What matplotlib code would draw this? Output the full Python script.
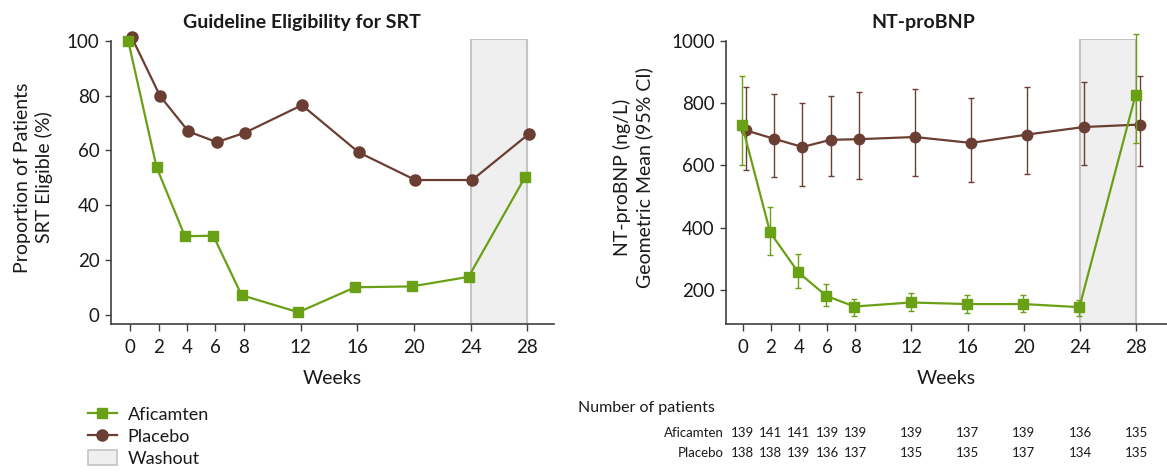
import numpy as np
import matplotlib
matplotlib.use("Agg")
import matplotlib.pyplot as plt
from matplotlib.lines import Line2D
from matplotlib.patches import Patch

plt.rcParams['font.family'] = ['Lato', 'DejaVu Sans']
plt.rcParams['text.color'] = '#1a1a1a'
plt.rcParams['axes.labelcolor'] = '#1a1a1a'

# data
weeks = [0, 2, 4, 6, 8, 12, 16, 20, 24, 28]
srt_afi = [100, 53.9, 28.7, 28.9, 7.2, 1.0, 10.1, 10.4, 13.9, 50.4]
srt_pbo = [101.2, 79.8, 66.9, 63.0, 66.5, 76.5, 59.3, 49.2, 49.2, 66.0]

bnp_afi = [730, 385, 257, 181, 147, 160, 155, 155, 145, 827]
bnp_afi_lo = [602, 312, 208, 149, 117, 134, 125, 131, 117, 672]
bnp_afi_hi = [886, 466, 315, 218, 172, 190, 184, 184, 168, 1023]
bnp_pbo = [712, 685, 659, 682, 684, 691, 672, 699, 723, 731]
bnp_pbo_lo = [584, 563, 535, 567, 556, 567, 546, 573, 602, 598]
bnp_pbo_hi = [853, 829, 801, 824, 836, 845, 817, 853, 867, 886]

n_afi = [139, 141, 141, 139, 139, 139, 137, 139, 136, 135]
n_pbo = [138, 138, 139, 136, 137, 135, 135, 137, 134, 135]

washout = (24, 28)

GREEN = '#6aa016'
BROWN = '#6b3e34'
SPINE = '#404040'

wk = np.array(weeks, dtype=float)

fig = plt.figure(figsize=(11.67, 4.76), dpi=100)
ax1 = fig.add_axes([0.0949, 0.3193, 0.3799, 0.5981])
ax2 = fig.add_axes([0.6221, 0.3193, 0.3779, 0.5981])


def style_axis(ax, ylim, ytop, yticks):
    ax.set_ylim(*ylim)
    ax.set_yticks(yticks)
    ax.set_xticks(weeks)
    for s in ['top', 'right']:
        ax.spines[s].set_visible(False)
    for s in ['left', 'bottom']:
        ax.spines[s].set_color(SPINE)
        ax.spines[s].set_linewidth(1.2)
    ax.spines['left'].set_bounds(ylim[0], ytop)
    ax.tick_params(axis='both', colors=SPINE, labelcolor='#1a1a1a',
                   labelsize=13.5, width=1.0)
    ax.tick_params(axis='x', length=5, pad=6)
    ax.tick_params(axis='y', length=4, pad=4)
    ax.set_xlabel('Weeks', fontsize=14, labelpad=10)


# left panel
ax1.set_xlim(-1.38, 29.88)
ax1.axvspan(*washout, ymin=0, ymax=1, facecolor='#efefef',
            edgecolor='#c4c4c4', linewidth=1.5, zorder=0)
ax1.plot(wk + 0.1, srt_pbo, '-o', color=BROWN, lw=1.6, ms=8, zorder=3,
         clip_on=False)
ax1.plot(wk - 0.15, srt_afi, '-s', color=GREEN, lw=1.6, ms=7.5, zorder=4,
         clip_on=False)
style_axis(ax1, (-3.3, 100.5), 100, [0, 20, 40, 60, 80, 100])
ax1.set_title('Guideline Eligibility for SRT', fontsize=14, fontweight='bold',
              x=0.4315, pad=8)
ax1.set_ylabel('Proportion of Patients\nSRT Eligible (%)', fontsize=14,
               linespacing=1.25)
ax1.yaxis.set_label_coords(-0.13, 0.515)

# right panel
ax2.set_xlim(-1.19, 30.18)
ax2.axvspan(*washout, ymin=0, ymax=1, facecolor='#efefef',
            edgecolor='#c4c4c4', linewidth=1.5, zorder=0)
pbo_err = [np.array(bnp_pbo) - np.array(bnp_pbo_lo),
           np.array(bnp_pbo_hi) - np.array(bnp_pbo)]
afi_err = [np.array(bnp_afi) - np.array(bnp_afi_lo),
           np.array(bnp_afi_hi) - np.array(bnp_afi)]
eb1 = ax2.errorbar(wk + 0.25, bnp_pbo, yerr=pbo_err, fmt='-o', color=BROWN,
                   lw=1.6, ms=7.5, elinewidth=1.0, capsize=2, capthick=1.0,
                   zorder=3)
eb2 = ax2.errorbar(wk - 0.05, bnp_afi, yerr=afi_err, fmt='-s', color=GREEN,
                   lw=1.6, ms=7, elinewidth=1.0, capsize=2, capthick=1.0,
                   zorder=4)
for eb in (eb1, eb2):
    for art in eb.get_children():
        art.set_clip_on(False)
style_axis(ax2, (90.9, 1004.5), 1000, [200, 400, 600, 800, 1000])
ax2.set_title('NT-proBNP', fontsize=14, fontweight='bold', x=0.447, pad=8)
ax2.set_ylabel('NT-proBNP (ng/L)\nGeometric Mean (95% CI)', fontsize=14,
               linespacing=1.25)
ax2.yaxis.set_label_coords(-0.166, 0.515)

# number of patients table under the right panel
fig.text(578 / 1167, 1 - 408 / 476, 'Number of patients', fontsize=11.5,
         ha='left', va='center')
trans = ax2.get_xaxis_transform()
for label, counts, ypix in [('Aficamten', n_afi, 433), ('Placebo', n_pbo, 453)]:
    yax = (324 - ypix) / 284.7
    ax2.text(-1.35, yax, label, transform=trans, ha='right', va='center',
             fontsize=9.5, clip_on=False)
    for w, n in zip(weeks, counts):
        ax2.text(w, yax, str(n), transform=trans, ha='center', va='center',
                 fontsize=9.5, clip_on=False)

# legend
handles = [
    Line2D([], [], color=GREEN, marker='s', lw=1.6, ms=7.5),
    Line2D([], [], color=BROWN, marker='o', lw=1.6, ms=8),
    Patch(facecolor='#efefef', edgecolor='#c4c4c4', linewidth=1.2),
]
fig.legend(handles, ['Aficamten', 'Placebo', 'Washout'], loc='upper left',
           bbox_to_anchor=(88 / 1167, 1 - 406 / 476), frameon=False,
           fontsize=13, handlelength=1.6, handletextpad=0.6, labelspacing=0.3,
           handleheight=0.9, borderaxespad=0, borderpad=0)

fig.savefig('out.png', dpi=100)
